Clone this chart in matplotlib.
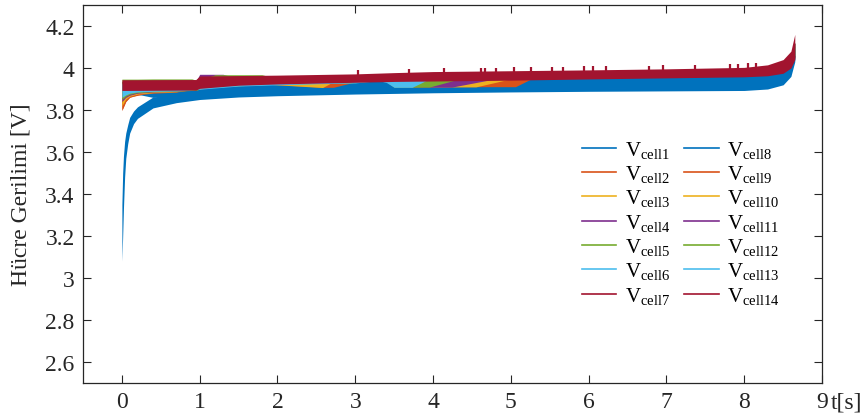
import matplotlib
matplotlib.use("Agg")
import matplotlib.pyplot as plt
from matplotlib.ticker import FuncFormatter, FixedLocator

plt.rcParams["font.family"] = ["Liberation Serif", "DejaVu Serif"]
plt.rcParams["mathtext.fontset"] = "custom"
plt.rcParams["mathtext.rm"] = "Liberation Serif"

# MATLAB default line colours, cells 1-7 and 8-14 share them
COLORS = ["#0072BD", "#D95319", "#EDB120", "#7E2F8E", "#77AC30", "#4DBEEE", "#A2142F"]

# each cell is drawn as the band (lower/upper envelope) of its rippling voltage
c1_t = [0, 0.01, 0.02, 0.035, 0.05, 0.075, 0.1, 0.15, 0.2, 0.4, 0.7, 1.0, 1.5, 2.0, 3.0, 4.0, 5.0, 6.0, 7.0, 8.0, 8.3, 8.5, 8.6, 8.65]
c1_lo = [3.08, 3.20, 3.33, 3.48, 3.57, 3.64, 3.69, 3.735, 3.76, 3.81, 3.835, 3.85, 3.862, 3.868, 3.876, 3.882, 3.886, 3.889, 3.891, 3.893, 3.90, 3.92, 3.96, 4.03]
c1_hi = [3.35, 3.50, 3.58, 3.65, 3.69, 3.73, 3.765, 3.795, 3.815, 3.862, 3.875, 3.882, 3.888, 3.892, 3.897, 3.90, 3.903, 3.906, 3.908, 3.912, 3.92, 3.95, 4.00, 4.07]

# cells 2-7 sit inside the others and are mostly covered
hid_t = [0, 0.05, 0.1, 0.4, 1.0, 2.0, 3.0, 4.0, 5.0, 6.0, 7.0, 8.0, 8.3, 8.5, 8.6, 8.65]
hid_hi = [3.935, 3.935, 3.935, 3.935, 3.94, 3.955, 3.96, 3.965, 3.97, 3.975, 3.98, 3.985, 3.995, 4.02, 4.06, 4.12]
c2_lo = [3.80, 3.842, 3.862, 3.885, 3.905, 3.915, 3.925, 3.93, 3.935, 3.94, 3.945, 3.95, 3.955, 3.97, 3.995, 4.05]
c3_lo = [3.825, 3.855, 3.868, 3.887, 3.907, 3.917, 3.927, 3.932, 3.937, 3.942, 3.947, 3.952, 3.957, 3.972, 3.997, 4.052]
c4_lo = [3.843, 3.862, 3.872, 3.889, 3.909, 3.919, 3.929, 3.934, 3.939, 3.944, 3.949, 3.954, 3.959, 3.974, 3.999, 4.054]
c5_lo = [3.853, 3.868, 3.877, 3.891, 3.911, 3.921, 3.931, 3.936, 3.941, 3.946, 3.951, 3.956, 3.961, 3.976, 4.001, 4.056]
c6_lo = [3.863, 3.874, 3.882, 3.893, 3.913, 3.923, 3.933, 3.938, 3.943, 3.948, 3.953, 3.958, 3.963, 3.978, 4.003, 4.058]
c7_lo = [3.895, 3.895, 3.895, 3.895, 3.905, 3.925, 3.934, 3.94, 3.944, 3.95, 3.955, 3.96, 3.965, 3.978, 4.003, 4.045]

c8_t = [0, 0.2, 0.4, 1.0, 2.0, 3.0, 4.0, 5.0, 6.0, 7.0, 8.0, 8.3, 8.5, 8.6, 8.65]
c8_lo = [3.87, 3.875, 3.86, 3.878, 3.888, 3.893, 3.896, 3.899, 3.902, 3.904, 3.906, 3.912, 3.935, 3.98, 4.04]
c8_hi = [3.92, 3.925, 3.93, 3.935, 3.94, 3.945, 3.948, 3.95, 3.955, 3.96, 3.965, 3.97, 3.99, 4.04, 4.10]

c9_t = [0, 0.05, 0.1, 0.2, 0.4, 0.7, 1.0, 1.5, 1.9, 2.58, 2.72, 3.0, 3.3, 3.4, 3.5, 5.06, 5.25, 6.0, 8.0, 8.5, 8.65]
c9_lo = [3.797, 3.84, 3.86, 3.872, 3.88, 3.885, 3.903, 3.918, 3.923, 3.908, 3.908, 3.934, 3.945, 3.938, 3.911, 3.911, 3.946, 3.957, 3.967, 3.987, 4.06]
c9_hi = [3.93, 3.93, 3.93, 3.93, 3.93, 3.93, 3.935, 3.945, 3.948, 3.95, 3.951, 3.953, 3.955, 3.956, 3.957, 3.962, 3.963, 3.97, 3.98, 4.01, 4.10]

c10_t = [0, 0.05, 0.1, 0.2, 0.4, 0.7, 1.0, 1.5, 1.9, 2.58, 2.72, 3.3, 3.4, 3.5, 4.55, 4.96, 6.0, 8.0, 8.5, 8.65]
c10_lo = [3.82, 3.852, 3.866, 3.876, 3.883, 3.887, 3.902, 3.917, 3.922, 3.907, 3.935, 3.944, 3.937, 3.91, 3.91, 3.945, 3.956, 3.966, 3.986, 4.06]
c10_hi = [3.93, 3.93, 3.93, 3.93, 3.93, 3.93, 3.935, 3.945, 3.948, 3.95, 3.952, 3.955, 3.956, 3.957, 3.96, 3.962, 3.97, 3.98, 4.01, 4.10]

c11_t = [0, 0.05, 0.1, 0.2, 0.4, 0.7, 0.95, 1.0, 1.3, 1.5, 2.0, 2.5, 3.0, 3.3, 3.4, 3.5, 4.24, 4.74, 6.0, 8.0, 8.5, 8.65]
c11_lo = [3.84, 3.86, 3.87, 3.88, 3.886, 3.889, 3.895, 3.90, 3.912, 3.916, 3.923, 3.927, 3.931, 3.943, 3.936, 3.909, 3.909, 3.944, 3.956, 3.966, 3.986, 4.06]
c11_hi = [3.935, 3.935, 3.935, 3.935, 3.935, 3.935, 3.935, 3.97, 3.97, 3.95, 3.95, 3.952, 3.955, 3.957, 3.958, 3.958, 3.96, 3.962, 3.97, 3.98, 4.01, 4.10]

c12_t = [0, 0.05, 0.1, 0.2, 0.4, 0.7, 0.9, 0.97, 1.0, 1.2, 1.5, 1.8, 2.0, 2.5, 3.0, 3.3, 3.4, 3.5, 3.95, 4.28, 6.0, 8.0, 8.5, 8.65]
c12_lo = [3.85, 3.866, 3.875, 3.883, 3.887, 3.89, 3.893, 3.895, 3.90, 3.91, 3.915, 3.921, 3.922, 3.926, 3.93, 3.942, 3.935, 3.908, 3.909, 3.942, 3.955, 3.965, 3.985, 4.06]
c12_hi = [3.947, 3.947, 3.947, 3.947, 3.948, 3.948, 3.948, 3.94, 3.943, 3.968, 3.968, 3.968, 3.95, 3.952, 3.955, 3.957, 3.958, 3.958, 3.96, 3.962, 3.97, 3.98, 4.01, 4.10]

c13_t = [0, 0.05, 0.1, 0.2, 0.4, 0.7, 1.0, 1.5, 2.0, 2.5, 3.0, 3.3, 3.4, 3.5, 3.73, 3.91, 4.5, 6.0, 8.0, 8.5, 8.65]
c13_lo = [3.86, 3.872, 3.88, 3.886, 3.889, 3.891, 3.899, 3.914, 3.92, 3.925, 3.929, 3.94, 3.931, 3.908, 3.908, 3.94, 3.948, 3.955, 3.965, 3.985, 4.06]
c13_hi = [3.925, 3.925, 3.925, 3.925, 3.93, 3.93, 3.935, 3.945, 3.95, 3.952, 3.955, 3.957, 3.958, 3.958, 3.959, 3.96, 3.965, 3.97, 3.98, 4.01, 4.10]

c14_t = [0, 0.95, 1.0, 1.5, 2.0, 2.5, 3.0, 3.5, 4.0, 4.5, 5.0, 5.5, 6.0, 7.0, 8.0, 8.3, 8.5, 8.6, 8.65]
c14_lo = [3.893, 3.895, 3.903, 3.918, 3.924, 3.928, 3.932, 3.936, 3.938, 3.940, 3.942, 3.945, 3.948, 3.953, 3.958, 3.963, 3.975, 4.00, 4.04]
c14_hi = [3.944, 3.945, 3.962, 3.964, 3.966, 3.969, 3.972, 3.978, 3.983, 3.985, 3.987, 3.989, 3.991, 3.996, 4.003, 4.015, 4.04, 4.08, 4.16]

# short voltage spikes on top of cell 14
spike_t = [3.03, 3.69, 4.14, 4.62, 4.67, 4.81, 5.04, 5.26, 5.53, 5.67, 5.94, 6.06, 6.22, 6.78, 6.96, 7.37, 7.82, 7.92, 8.05, 8.15]
spike_v = [3.99, 3.996, 3.998, 4.002, 4.002, 4.002, 4.003, 4.006, 4.006, 4.007, 4.008, 4.008, 4.008, 4.011, 4.012, 4.013, 4.018, 4.019, 4.022, 4.024]

y_ticks = [2.6, 2.8, 3.0, 3.2, 3.4, 3.6, 3.8, 4.0, 4.2]
x_ticks = [0, 1, 2, 3, 4, 5, 6, 7, 8, 9]

cells = [
    (c1_t, c1_lo, c1_hi),
    (hid_t, c2_lo, hid_hi),
    (hid_t, c3_lo, hid_hi),
    (hid_t, c4_lo, hid_hi),
    (hid_t, c5_lo, hid_hi),
    (hid_t, c6_lo, hid_hi),
    (hid_t, c7_lo, hid_hi),
    (c8_t, c8_lo, c8_hi),
    (c9_t, c9_lo, c9_hi),
    (c10_t, c10_lo, c10_hi),
    (c11_t, c11_lo, c11_hi),
    (c12_t, c12_lo, c12_hi),
    (c13_t, c13_lo, c13_hi),
    (c14_t, c14_lo, c14_hi),
]

fig = plt.figure(figsize=(8.65, 4.14), dpi=100)
ax = fig.add_axes([83 / 865, 30 / 414, 739 / 865, 378 / 414])

AX_COL = "#262626"
for i, (t, lo, hi) in enumerate(cells):
    col = COLORS[i % 7]
    ax.fill_between(t, lo, hi, color=col, linewidth=0)
    ax.plot([], [], color=col, lw=1.2, label=r"$\mathregular{V_{cell%d}}$" % (i + 1))
ax.vlines(spike_t, 3.96, spike_v, color=COLORS[6], lw=1.6)

ax.set_xlim(-0.5, 9)
ax.set_ylim(2.5, 4.3)
ax.xaxis.set_major_locator(FixedLocator(x_ticks))
ax.yaxis.set_major_locator(FixedLocator(y_ticks))
ax.yaxis.set_major_formatter(FuncFormatter(lambda v, p: "%g" % v))
ax.tick_params(direction="in", top=True, right=True, length=5.5, width=0.8,
               labelsize=17, colors=AX_COL, pad=6)
for s in ax.spines.values():
    s.set_color(AX_COL)
    s.set_linewidth(0.9)

ax.set_ylabel("Hücre Gerilimi [V]", fontsize=17, color=AX_COL, labelpad=10)
ax.annotate("t[s]", xy=(1.0, 0.0), xycoords="axes fraction", xytext=(6, -6),
            textcoords="offset points", fontsize=17, color=AX_COL, ha="left", va="top")

leg = ax.legend(ncol=2, loc="upper left", bbox_to_anchor=(0.664, 0.668), frameon=False,
                fontsize=15, handlelength=1.65, handletextpad=0.4,
                columnspacing=0.68, labelspacing=0.16, borderaxespad=0)

fig.savefig("out.png", dpi=100)
